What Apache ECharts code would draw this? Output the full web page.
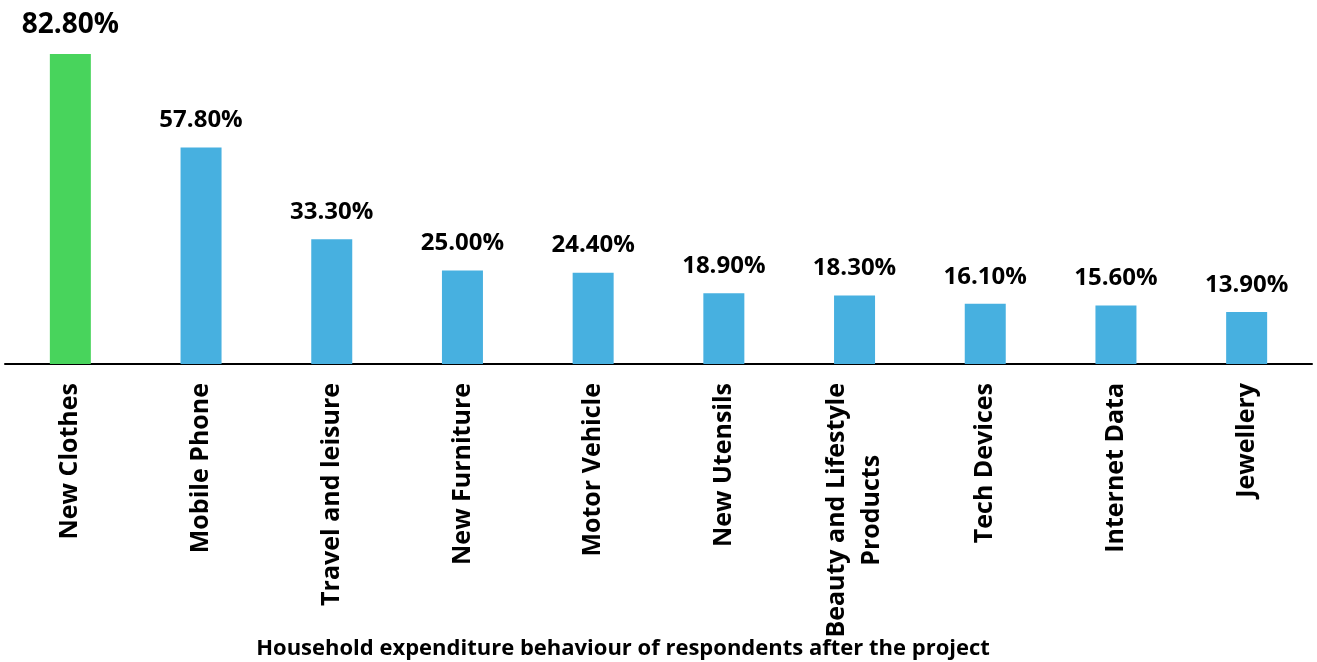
<!DOCTYPE html>
<html>
<head>
<meta charset="utf-8">
<title>Household expenditure behaviour</title>
<script src="https://cdn.jsdelivr.net/npm/echarts@6/dist/echarts.min.js"></script>
<style>
  html, body { margin: 0; padding: 0; background: #ffffff; }
  #chart { width: 1317px; height: 662px; }
</style>
</head>
<body>
<div id="chart"></div>
<script>
// Expenditure categories (a "\n" breaks a label onto a second line)
const categories = [
  'New Clothes',
  'Mobile Phone',
  'Travel and leisure',
  'New Furniture',
  'Motor Vehicle',
  'New Utensils',
  'Beauty and Lifestyle\nProducts',
  'Tech Devices',
  'Internet Data',
  'Jewellery'
];

// Share of respondents (%)
const shares = [82.8, 57.8, 33.3, 25.0, 24.4, 18.9, 18.3, 16.1, 15.6, 13.9];

const chartTitle = 'Household expenditure behaviour of respondents after the project';

const FONT = '"Open Sans", "Noto Sans", sans-serif';
const GREEN = '#48d45c';
const BLUE = '#47b0e0';

const chart = echarts.init(document.getElementById('chart'), null, { renderer: 'canvas' });

const option = {
  backgroundColor: '#ffffff',
  animation: false,
  title: {
    text: chartTitle,
    left: 618,
    top: 633,
    textAlign: 'center',
    textStyle: {
      fontFamily: FONT,
      fontWeight: 'bold',
      fontSize: 22,
      color: '#000000'
    }
  },
  grid: { left: 5, right: 5, top: 54, bottom: 298, containLabel: false },
  xAxis: {
    type: 'category',
    data: categories,
    axisLine: { show: true, lineStyle: { color: '#000000', width: 2 } },
    axisTick: { show: false },
    splitLine: { show: false },
    axisLabel: {
      interval: 0,
      rotate: 90,
      margin: 19,
      formatter: function (v) {
        return v.split('\n').map(function (s) { return '{c|' + s + '}'; }).join('\n');
      },
      rich: {
        c: {
          align: 'center',
          fontFamily: FONT,
          fontWeight: 'bold',
          fontSize: 25,
          lineHeight: 35,
          color: '#000000'
        }
      }
    }
  },
  yAxis: {
    type: 'value',
    min: 0,
    max: 82.8,
    show: false,
    splitLine: { show: false }
  },
  series: [{
    type: 'bar',
    barWidth: 41,
    data: shares.map(function (v, i) {
      return i === 0 ? { value: v, label: { fontSize: 28 } } : v;
    }),
    itemStyle: {
      color: function (p) { return p.dataIndex === 0 ? GREEN : BLUE; }
    },
    label: {
      show: true,
      position: 'top',
      distance: 15,
      fontFamily: FONT,
      fontWeight: 'bold',
      fontSize: 24,
      color: '#000000',
      formatter: function (p) { return p.value.toFixed(2) + '%'; }
    }
  }]
};

chart.setOption(option);
</script>
</body>
</html>
